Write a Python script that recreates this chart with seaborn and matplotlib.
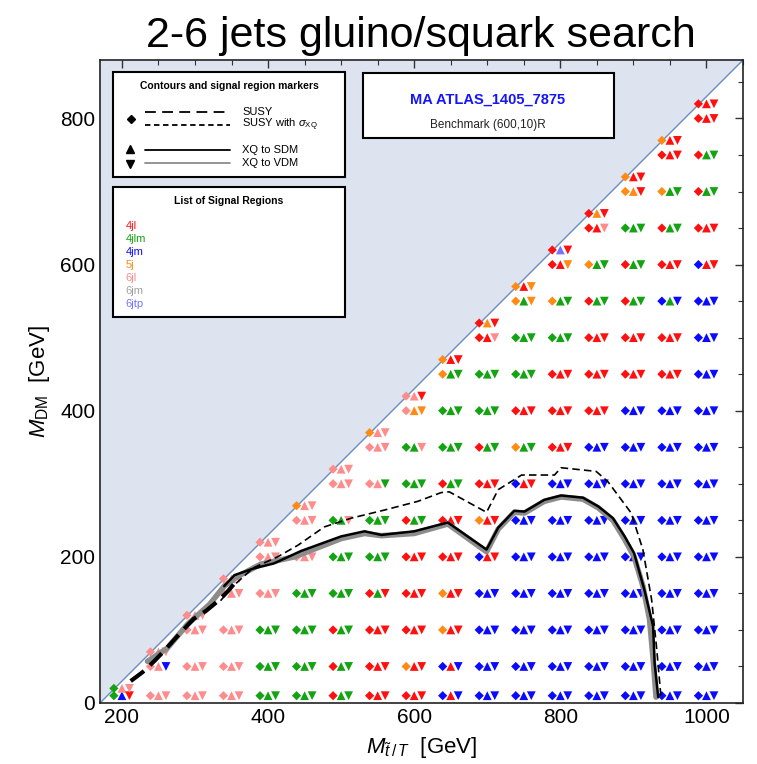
import numpy as np
import pandas as pd
import matplotlib
matplotlib.use("Agg")
import matplotlib.pyplot as plt
import matplotlib.transforms as mtransforms
from matplotlib.patches import Rectangle
from matplotlib.lines import Line2D
import seaborn as sns

# ---- scan grid -------------------------------------------------------------
parent_mass = [200, 250, 300, 350, 400, 450, 500, 550, 600, 650,
               700, 750, 800, 850, 900, 950, 1000]
dm_levels = [10, 50, 100, 150, 200, 250, 300, 350, 400, 450,
             500, 550, 600, 650, 700, 750, 800]
compressed_gap = 180      # last point of each column sits at M - 180

# best signal region per grid point, bottom -> top in M_DM
# each triple: SUSY (diamond), XQ->SDM (up), XQ->VDM (down)
# R=4jl G=4jlm B=4jm O=5j P=6jl Y=6jm L=6jtp
best_regions = {
    200:  "GBR GPP",
    250:  "PPP PPB PPP",
    300:  "PPP PPP PPP PPP",
    350:  "PPP PPP PPP PPP PPP",
    400:  "GGG GGG GGG PPP PPP PPP",
    450:  "GGG GGG GGG GGG PPP PPP OPP",
    500:  "RGG RGG RGG GGG GGG GGP PPP PPP",
    550:  "RRR RRR RRR RGR GGG GGG PPG PPP OPP",
    600:  "RRR ORR RRR RRR RRR RGG GGG GGP POO PPR",
    650:  "BRB BRB ORR ORR RRR RRR RGG GGG GGG OGG ORR",
    700:  "BBB BBB BBB BBB BRR ORR RRR RGG GGG GGG RRP ROR",
    750:  "BBB BBB BBB BBB BBB BBB BRR OGG RRR GGG GGG OGO ORO",
    800:  "BBB BBB BBB BBB BBB BBB BBB RRR RRR RRR GGG OGG RRO RLR",
    850:  "BBB BBB BBB BBB BBB BBB BBB BBB RRR RRR RRR RGG OGG RRP ROR",
    900:  "BBB BBB BBB BBB BBB BBB BBB BBB BBB RRR RRR RGG RGG GGG OOR ORR",
    950:  "BBB BBB BBB BBB BBB BBB BBB BBB BBB RRR RRR BGB RRR RGG OGG RRR ORR",
    1000: "BBB BBB BBB BBB BBB BBB BBB BBB BBB BBB BBB BBB BRR RRR RGG RGG RRR RRR",
}

region_names = ["4jl", "4jlm", "4jm", "5j", "6jl", "6jm", "6jtp"]
region_codes = ["R", "G", "B", "O", "P", "Y", "L"]
region_colors = ["#ff1010", "#13a313", "#0a0aff", "#ff8a14", "#ff8c8c", "#a0a0a0", "#7373ff"]

# ---- exclusion contours ------------------------------------------------------
susy_x = [212, 228, 245, 262, 280, 298, 315, 332, 345, 356]
susy_y = [30, 42, 58, 76, 96, 115, 126, 140, 153, 166]

susy_xq_x = [335, 352, 380, 413, 441, 477, 514, 559, 605, 637, 648, 699, 715,
             747, 792, 801, 849, 865, 897, 913, 925, 932, 938]
susy_xq_y = [140, 160, 185, 200, 216, 241, 253, 264, 276, 288, 289, 261, 292,
             312, 312, 322, 317, 303, 260, 210, 141, 73, 5]

sdm_x = [340, 354, 380, 408, 445, 500, 532, 555, 600, 646, 699, 715, 737,
         751, 778, 801, 831, 852, 872, 888, 901, 915, 927, 929, 934]
sdm_y = [160, 175, 184, 191, 208, 228, 235, 230, 235, 247, 210, 240, 263,
         262, 278, 284, 281, 269, 253, 228, 205, 155, 105, 55, 8]

vdm_x = [235, 262, 290, 320, 340, 358, 390, 436, 500, 532, 555, 600, 646,
         699, 715, 737, 751, 778, 801, 831, 852, 872, 888, 901, 913, 922,
         927, 931]
vdm_y = [57, 75, 108, 135, 160, 173, 190, 200, 225, 232, 229, 232, 245,
         207, 238, 261, 260, 276, 282, 279, 267, 250, 224, 200, 160, 115,
         60, 8]

# ---- tidy table of markers ---------------------------------------------------
code_to_name = dict(zip(region_codes, region_names))
rows = []
for m in parent_mass:
    dms = [d for d in dm_levels if d < m - compressed_gap] + [m - compressed_gap]
    triples = best_regions[m].split()
    for dm, tri in zip(dms, triples):
        for kind, c in zip(["SUSY", "SDM", "VDM"], tri):
            rows.append({"M": m, "DM": dm, "kind": kind, "region": code_to_name[c]})
df = pd.DataFrame(rows)

# ---- figure ------------------------------------------------------------------
sns.set_theme(style="white")
plt.rcParams["font.family"] = ["Liberation Sans", "DejaVu Sans"]
plt.rcParams["text.color"] = "black"
plt.rcParams["axes.labelcolor"] = "black"
plt.rcParams["xtick.color"] = "black"
plt.rcParams["ytick.color"] = "black"
plt.rcParams["mathtext.fontset"] = "custom"
plt.rcParams["mathtext.rm"] = "Liberation Sans"
plt.rcParams["mathtext.it"] = "Liberation Sans:italic"
plt.rcParams["mathtext.bf"] = "Liberation Sans:bold"

fig = plt.figure(figsize=(7.57, 7.64), dpi=100)
ax = fig.add_axes([100 / 757, 61 / 764, 643 / 757, 643 / 764])

xlo, xhi, ylo, yhi = 170, 1050, 0, 880
ax.set_xlim(xlo, xhi)
ax.set_ylim(ylo, yhi)

# kinematically forbidden wedge above the diagonal
diag = np.array([xlo, xhi])
ax.fill_between(diag, diag - xlo, yhi, color="#dde3ef", lw=0, zorder=0)
ax.plot(diag, diag - xlo, color="#6f8fc2", lw=1.0, zorder=1)

# contours
sns.lineplot(x=vdm_x, y=vdm_y, sort=False, estimator=None, color="#8c8c8c", lw=4.0, ax=ax, zorder=4)
sns.lineplot(x=sdm_x, y=sdm_y, sort=False, estimator=None, color="black", lw=1.8, ax=ax, zorder=5)
sns.lineplot(x=susy_xq_x, y=susy_xq_y, sort=False, estimator=None, color="black", lw=1.2,
             linestyle=(0, (4.5, 2.5)), ax=ax, zorder=5)
sns.lineplot(x=susy_x, y=susy_y, sort=False, estimator=None, color="black", lw=3.0,
             linestyle=(0, (4, 2)), ax=ax, zorder=5)

# signal-region markers, one glyph per model, side by side
palette = dict(zip(region_names, region_colors))
for kind, marker, dx, size in [("SUSY", "D", -5.8, 22), ("SDM", "^", 0.0, 40), ("VDM", "v", 5.4, 40)]:
    tr = mtransforms.offset_copy(ax.transData, fig=fig, x=dx, y=0, units="points")
    sns.scatterplot(data=df[df["kind"] == kind], x="M", y="DM", hue="region", palette=palette,
                    hue_order=region_names, marker=marker, s=size, linewidth=0,
                    legend=False, ax=ax, transform=tr, zorder=3)

ax.set_xlim(xlo, xhi)
ax.set_ylim(ylo, yhi)
ax.set_xticks([200, 400, 600, 800, 1000])
ax.set_yticks([0, 200, 400, 600, 800])
ax.set_xticks(np.arange(200, 1051, 50), minor=True)
ax.set_yticks(np.arange(0, 881, 50), minor=True)
ax.tick_params(which="both", direction="in", top=True, right=True, labelsize=15,
               colors="#333333", labelcolor="black")
ax.tick_params(which="major", length=6, width=1.0)
ax.tick_params(which="minor", length=3.5, width=0.8)
for sp in ax.spines.values():
    sp.set_color("#222222")
    sp.set_linewidth(1.2)

ax.set_xlabel(r"$M_{\tilde{t}\,/\,T}$  [GeV]", fontsize=16, labelpad=6, color="black")
ax.set_ylabel(r"$M_{\rm DM}$  [GeV]", fontsize=16, labelpad=6, color="black")

fig.text(421 / 757, (764 - 47) / 764, "2-6 jets gluino/squark search",
         ha="center", va="baseline", fontsize=31, color="black")

# ---- legend boxes ------------------------------------------------------------
def box(x0, y0, x1, y1):
    ax.add_patch(Rectangle((x0, y0), x1 - x0, y1 - y0, transform=ax.transAxes,
                           facecolor="white", edgecolor="black", lw=1.5, zorder=10))

box(0.020, 0.818, 0.381, 0.981)
ax.text(0.2005, 0.9596, "Contours and signal region markers", transform=ax.transAxes,
        ha="center", va="center", fontsize=7.5, fontweight="bold", zorder=11)
key_items = [
    (0.919, (0, (6, 3.5)), "black", "SUSY"),
    (0.899, (0, (3, 2)), "black", r"SUSY with $\sigma_{\rm XQ}$"),
    (0.860, "-", "black", "XQ to SDM"),
    (0.840, "-", "#8c8c8c", "XQ to VDM"),
]
for yk, ls, col, label in key_items:
    ax.add_line(Line2D([0.070, 0.202], [yk, yk], transform=ax.transAxes, color=col,
                       lw=1.3, linestyle=ls, zorder=11))
    ax.text(0.221, yk, label, transform=ax.transAxes, ha="left", va="center",
            fontsize=8, zorder=11)
ax.add_line(Line2D([0.048], [0.909], transform=ax.transAxes, marker="D", ms=4.5,
                   color="black", lw=0, zorder=11))
ax.add_line(Line2D([0.046], [0.862], transform=ax.transAxes, marker="^", ms=5.5,
                   color="black", lw=0, zorder=11))
ax.add_line(Line2D([0.046], [0.839], transform=ax.transAxes, marker="v", ms=5.5,
                   color="black", lw=0, zorder=11))

box(0.020, 0.600, 0.381, 0.8025)
ax.text(0.2005, 0.781, "List of Signal Regions", transform=ax.transAxes,
        ha="center", va="center", fontsize=7.5, fontweight="bold", zorder=11)
for i, (name, col) in enumerate(zip(region_names, region_colors)):
    ax.text(0.040, 0.742 - i * 0.0203, name, transform=ax.transAxes, ha="left",
            va="center", fontsize=8, color=col, zorder=11)

box(0.409, 0.879, 0.799, 0.980)
ax.text(0.603, 0.938, "MA ATLAS_1405_7875", transform=ax.transAxes, ha="center",
        va="center", fontsize=10.5, fontweight="bold", color="#1414ff", zorder=11)
ax.text(0.603, 0.899, "Benchmark (600,10)R", transform=ax.transAxes, ha="center",
        va="center", fontsize=8.5, color="#222222", zorder=11)

fig.savefig("out.png", dpi=100)
